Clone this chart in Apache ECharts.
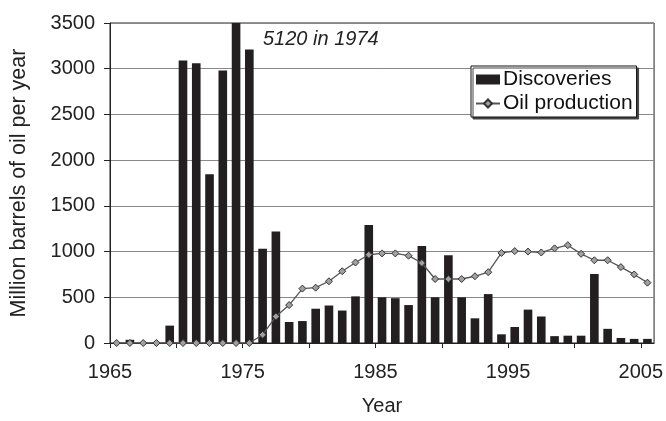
<!DOCTYPE html>
<html>
<head>
<meta charset="utf-8">
<script src="https://cdn.jsdelivr.net/npm/echarts@6/dist/echarts.min.js"></script>
<style>
html,body{margin:0;padding:0;background:#fff;}
#c{width:666px;height:421px;}
</style>
</head>
<body>
<div id="c"></div>
<script>
const years = [];
for (let y = 1965; y <= 2005; y++) years.push(String(y));

const discoveries = [0, 35, 0, 0, 190, 3090, 3060, 1845, 2980, 5120,
  3210, 1030, 1220, 230, 240, 375, 410, 355, 510, 1290,
  500, 490, 415, 1060, 500, 960, 500, 270, 535, 95,
  175, 365, 290, 75, 80, 80, 755, 155, 55, 45,
  45];

const production = [0, 0, 0, 0, 0, 0, 0, 0, 0, 0,
  0, 90, 290, 415, 595, 605, 675, 785, 880, 965,
  980, 980, 955, 875, 700, 700, 700, 730, 775, 985,
  1005, 1000, 990, 1035, 1070, 975, 905, 905, 830, 750,
  660];

const yTicks = [0, 500, 1000, 1500, 2000, 2500, 3000, 3500];
const xTickLabels = ['1965', '1975', '1985', '1995', '2005'];

const FONT = "'Liberation Sans', Arial, Helvetica, sans-serif";
const chart = echarts.init(document.getElementById('c'), null, {renderer: 'canvas'});

chart.setOption({
  animation: false,
  backgroundColor: '#fff',
  textStyle: {fontFamily: FONT},
  grid: {left: 108, right: 11, top: 23, bottom: 75, show: true, borderColor: '#222', borderWidth: 1, backgroundColor: 'transparent'},
  legend: {
    orient: 'vertical',
    left: 471, top: 66,
    padding: [3, 4, 3, 4],
    itemGap: 3,
    itemWidth: 24, itemHeight: 10,
    backgroundColor: '#fff',
    borderColor: '#111', borderWidth: 1,
    shadowColor: '#444', shadowOffsetX: 2, shadowOffsetY: 2, shadowBlur: 0,
    textStyle: {fontSize: 21, color: '#111', fontFamily: FONT, padding: [0,0,0,-2]},
    data: [
      {name: 'Discoveries', icon: 'rect'},
      {name: 'Oil production'}
    ]
  },
  xAxis: [
    {
      type: 'category', data: years, boundaryGap: true,
      axisLine: {show: false}, axisTick: {show: false}, axisLabel: {show: false},
      splitLine: {show: false}
    },
    {
      type: 'value', min: 1965, max: 2006, interval: 5, position: 'bottom',
      axisLine: {show: true, lineStyle: {color: '#222', width: 1}},
      axisTick: {show: true, inside: false, length: 5, lineStyle: {color: '#222'}},
      splitLine: {show: false},
      axisLabel: {
        fontSize: 20, color: '#222', margin: 19, fontFamily: FONT,
        showMaxLabel: false,
        formatter: v => xTickLabels.includes(String(v)) ? String(v) : ''
      },
      name: 'Year', nameLocation: 'middle', nameGap: 53,
      nameTextStyle: {fontSize: 20, color: '#222', fontFamily: FONT}
    }
  ],
  yAxis: {
    type: 'value', min: yTicks[0], max: yTicks[yTicks.length - 1], interval: 500,
    axisLine: {show: true, lineStyle: {color: '#222', width: 1}},
    axisTick: {show: true, inside: false, length: 6, lineStyle: {color: '#222'}},
    splitLine: {show: true, lineStyle: {color: '#888', width: 1}},
    axisLabel: {fontSize: 20, color: '#222', margin: 15, fontFamily: FONT, formatter: v => String(v)},
    name: 'Million barrels of oil per year', nameLocation: 'middle', nameGap: 80,
    nameTextStyle: {fontSize: 21.5, color: '#222', fontFamily: FONT}
  },
  graphic: [{
    type: 'text', left: 263, top: 29, z: 100,
    style: {text: '5120 in 1974', font: 'italic 20px ' + FONT, fill: '#222'}
  }],
  series: [
    {
      name: 'Discoveries', type: 'bar', xAxisIndex: 0, data: discoveries,
      barWidth: '65%', clip: true,
      itemStyle: {color: '#231f20'}
    },
    {
      name: 'Oil production', type: 'line', xAxisIndex: 0, data: production,
      symbol: 'diamond', symbolSize: 7, showSymbol: true,
      lineStyle: {color: '#555', width: 1.3},
      itemStyle: {color: '#a0a0a0', borderColor: '#333', borderWidth: 1}
    }
  ]
});
</script>
</body>
</html>
